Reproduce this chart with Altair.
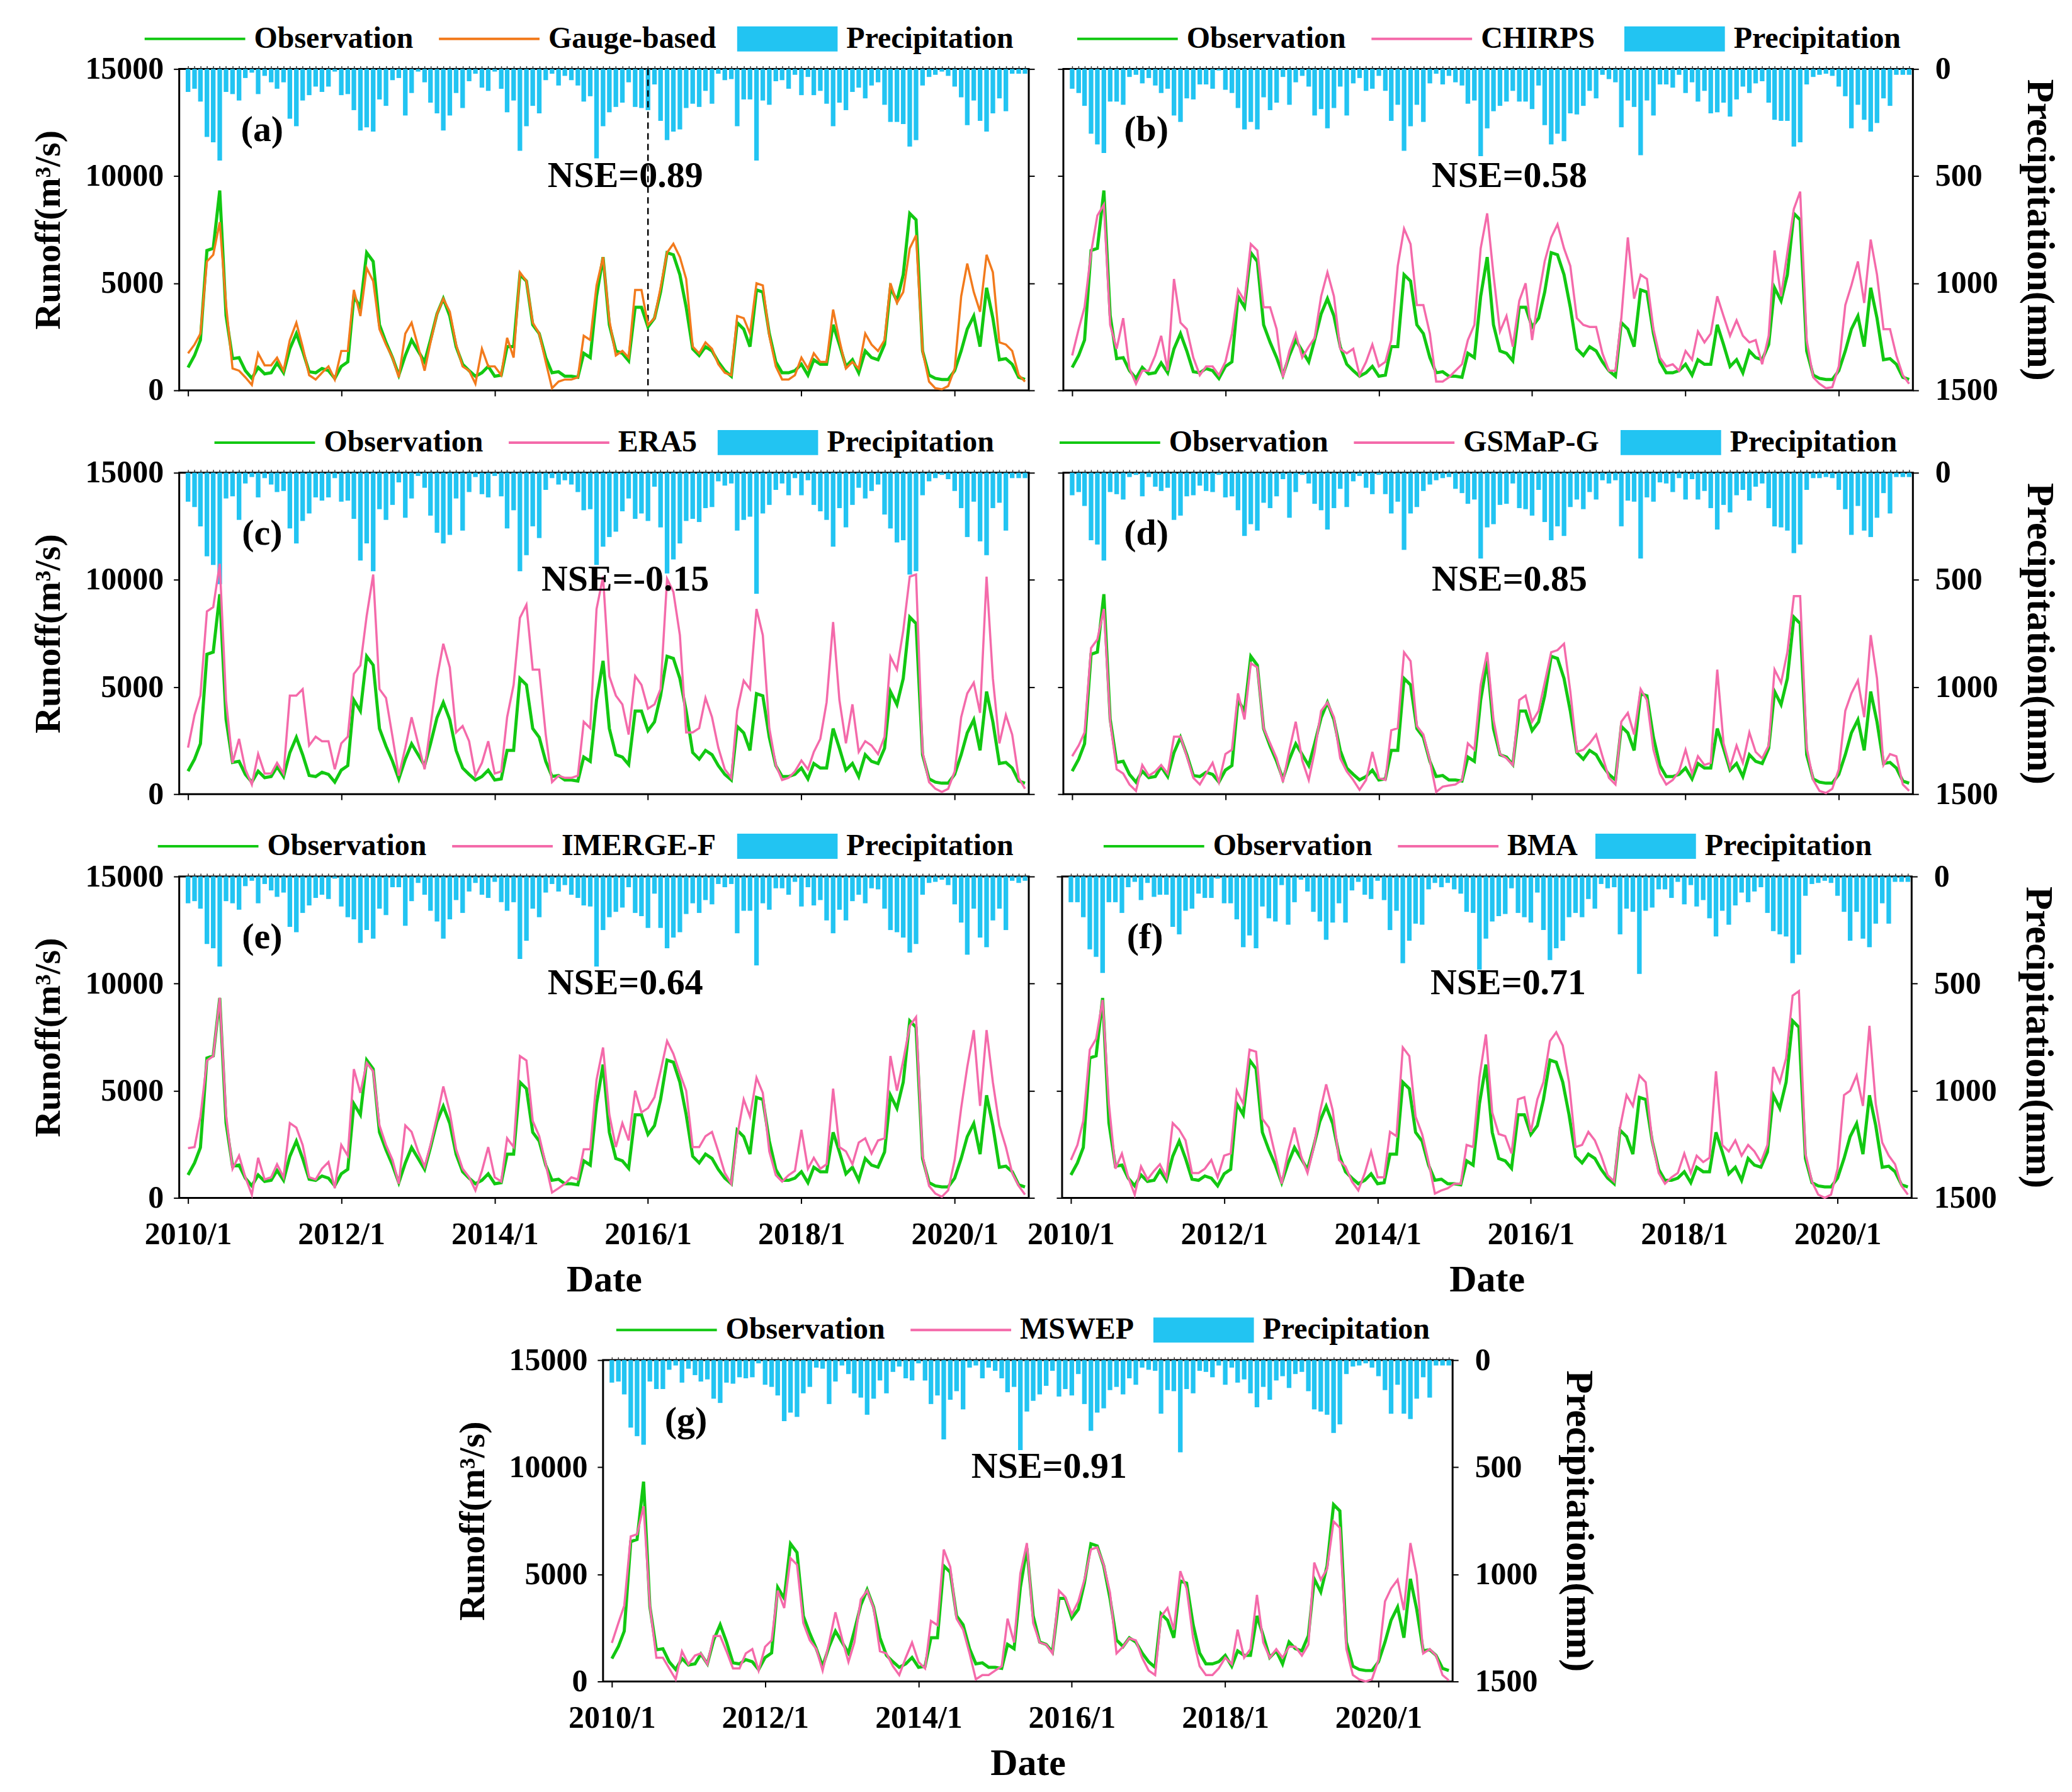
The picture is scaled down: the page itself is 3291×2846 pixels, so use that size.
import altair as alt
import pandas as pd

# ---------------- data (monthly, 2010/1 - 2020/12) ----------------
months = pd.date_range("2010-01-01", periods=132, freq="MS")

obs = [1070, 1630, 2350, 6530, 6630, 9330, 3500, 1480, 1530, 920, 560, 1070,
       770, 820, 1280, 820, 1940, 2650, 1840, 870, 820, 1020, 920, 560,
       1120, 1330, 4390, 3880, 6430, 6020, 3060, 2240, 1530, 710, 1630, 2350,
       1840, 1330, 2350, 3570, 4280, 3470, 2040, 1220, 920, 660, 820, 1120,
       660, 710, 2040, 2040, 5400, 5100, 3060, 2650, 1530, 820, 870, 660,
       660, 610, 1730, 1530, 4390, 6220, 3060, 1840, 1730, 1380, 3880, 3880,
       2960, 3370, 4590, 6430, 6330, 5400, 3880, 1940, 1630, 2040, 1840, 1330,
       920, 660, 3160, 2860, 2040, 4690, 4590, 2650, 1330, 820, 820, 920,
       1220, 710, 1430, 1220, 1220, 3060, 2140, 1120, 1430, 820, 1840, 1530,
       1430, 2140, 4790, 4180, 5400, 8260, 7960, 1840, 710, 560, 510, 510,
       920, 1840, 2860, 3470, 2040, 4790, 3370, 1430, 1480, 1220, 610, 510]

gauge = [1730, 2140, 2650, 6020, 6330, 7850, 4000, 1020, 920, 610, 255, 1730,
         1170, 1170, 1530, 920, 2350, 3160, 2040, 710, 510, 820, 1120, 510,
         1840, 1840, 4690, 3470, 5710, 5100, 2860, 2140, 1530, 610, 2650, 3160,
         2040, 920, 2240, 3570, 4280, 3670, 2140, 1120, 920, 310, 1940, 1120,
         1120, 710, 2450, 1530, 5510, 5100, 3160, 2650, 1330, 100, 410, 510,
         510, 610, 2550, 2350, 4900, 6220, 3270, 1630, 1840, 1530, 4690, 4690,
         3060, 3370, 4790, 6430, 6840, 6220, 5200, 2040, 1730, 2240, 1940, 1220,
         820, 710, 3470, 3370, 2650, 5000, 4900, 2550, 1120, 510, 510, 710,
         1530, 1020, 1730, 1330, 1330, 3770, 2350, 1020, 1330, 1020, 2650, 2140,
         1840, 2350, 5000, 4080, 4590, 6630, 7240, 1840, 410, 100, 50, 200,
         1020, 4390, 5920, 4590, 3670, 6330, 5510, 2240, 2140, 1840, 710, 410]

chirps = [1630, 2860, 3880, 6430, 8160, 8670, 3060, 1940, 3370, 1020, 310, 920,
          920, 1630, 2550, 920, 5200, 3160, 2860, 1530, 710, 1120, 1120, 710,
          1330, 2650, 4690, 4180, 6830, 6530, 3880, 3880, 2860, 610, 1840, 2650,
          1530, 2040, 2450, 4390, 5510, 4390, 1940, 1730, 1940, 710, 1330, 2140,
          1120, 1330, 2350, 5810, 7550, 6830, 3980, 3980, 2650, 410, 410, 610,
          920, 1220, 2350, 3060, 6630, 8260, 5400, 2750, 3470, 2040, 4180, 5000,
          2350, 4390, 6020, 7140, 7750, 6630, 5810, 3370, 3060, 2960, 2960, 1730,
          920, 920, 3370, 7140, 4280, 5400, 5200, 2860, 1530, 1120, 1220, 920,
          1840, 1430, 2750, 2240, 2650, 4390, 3470, 2550, 3270, 2550, 2240, 2350,
          1220, 2550, 6530, 4390, 6430, 8470, 9280, 2350, 610, 310, 100, 150,
          1120, 3980, 4900, 6020, 4080, 7040, 5400, 2860, 2860, 1630, 710, 310]

era5 = [2170, 3690, 4600, 8530, 8730, 10750, 4390, 1460, 2580, 1160, 450, 1870,
        960, 960, 1460, 960, 4600, 4600, 4900, 2270, 2680, 2470, 2470, 1160,
        2370, 2680, 5610, 6010, 8320, 10250, 4900, 4490, 2680, 860, 2170, 3590,
        2370, 1160, 3180, 5400, 7020, 5910, 2880, 3180, 2470, 860, 1460, 2470,
        960, 1060, 3590, 5100, 8230, 8840, 5810, 5810, 2780, 560, 860, 760,
        760, 860, 3380, 3080, 8640, 10150, 5500, 4600, 4190, 2780, 5510, 5100,
        3990, 4190, 4900, 10050, 9440, 7420, 2880, 2880, 3080, 4490, 3590, 2170,
        1160, 760, 3890, 5300, 4900, 8640, 7420, 3080, 1360, 660, 760, 1060,
        1570, 1160, 1970, 2580, 4290, 8030, 4390, 2370, 4190, 1970, 2470, 2270,
        1870, 2680, 6410, 5810, 7630, 10150, 10250, 1970, 560, 250, 100, 250,
        1060, 3590, 4700, 5200, 3790, 10150, 5400, 2370, 3690, 2780, 760, 250]

gsmap = [1770, 2270, 2880, 6820, 7220, 8640, 3380, 1160, 960, 450, 150, 1360,
         860, 1060, 1360, 960, 2680, 2680, 1770, 760, 450, 960, 1460, 560,
         1870, 2070, 4700, 3490, 6110, 5910, 3080, 2370, 1670, 560, 2070, 3380,
         1570, 660, 1970, 3890, 4280, 3590, 1670, 1060, 660, 200, 660, 1970,
         760, 660, 2980, 3080, 6620, 6210, 3180, 2780, 1570, 100, 350, 400,
         450, 660, 2370, 2070, 5100, 6620, 3490, 1870, 1670, 1360, 4390, 4600,
         3380, 3890, 5200, 6620, 6720, 7020, 4800, 1970, 2070, 2370, 2780, 1770,
         760, 450, 3380, 3790, 2780, 4900, 4390, 2070, 960, 450, 660, 1060,
         2070, 960, 1770, 1360, 1460, 5810, 2370, 1250, 2270, 1460, 2880, 1970,
         1670, 2270, 5810, 5200, 6620, 9240, 9240, 2170, 660, 150, 50, 250,
         1160, 3890, 4700, 5300, 3590, 7420, 5400, 1360, 1870, 1770, 450, 150]

imerg = [2320, 2370, 3790, 6410, 6620, 9340, 3890, 1360, 1970, 960, 150, 1870,
         860, 960, 1570, 960, 3490, 3280, 2470, 960, 860, 1360, 1670, 450,
         2470, 1970, 6010, 4900, 6300, 5910, 3380, 2470, 1770, 660, 3380, 3080,
         2170, 1460, 2470, 3790, 5200, 3990, 2270, 1360, 960, 350, 1260, 2370,
         960, 760, 2780, 2370, 6620, 6410, 3590, 2880, 1570, 250, 450, 660,
         960, 860, 2270, 2270, 5510, 7020, 3890, 2370, 3490, 2680, 5000, 3990,
         4190, 4700, 5910, 7320, 6720, 5810, 5000, 2370, 2370, 2880, 3080, 2170,
         1160, 660, 2880, 4600, 3790, 5610, 4900, 2170, 1060, 760, 1060, 1260,
         3180, 1360, 1870, 1360, 1570, 5100, 2370, 2170, 1570, 2580, 2780, 2070,
         2680, 2780, 6620, 5000, 6410, 8030, 8440, 1970, 560, 200, 50, 350,
         1770, 4190, 6110, 7830, 4290, 7830, 5400, 3380, 2370, 1160, 560, 150]

bma = [1770, 2470, 3590, 6920, 7420, 9240, 4390, 1360, 2070, 960, 150, 1460,
       860, 1260, 1570, 960, 3490, 3180, 2680, 1160, 1160, 1360, 1770, 960,
       1970, 2070, 5000, 4390, 6920, 6820, 3690, 3280, 1970, 660, 2170, 3280,
       1970, 1160, 2270, 3990, 5300, 4090, 1770, 1460, 760, 350, 1160, 2170,
       960, 960, 3080, 2880, 7020, 6620, 3790, 2980, 1670, 200, 350, 450,
       660, 660, 2470, 2370, 5610, 7630, 3990, 2980, 2880, 2070, 4600, 4700,
       3080, 4600, 5400, 7320, 7730, 7110, 5400, 2370, 2470, 3080, 2680, 1970,
       1060, 760, 3280, 4800, 4290, 5710, 5400, 2680, 1160, 660, 960, 1160,
       2070, 1160, 1970, 1670, 1870, 5910, 2470, 2170, 2680, 1970, 2470, 2170,
       1670, 2470, 6110, 5400, 6520, 9440, 9650, 2070, 760, 150, 0, 150,
       1360, 4800, 5000, 5710, 4290, 8030, 4390, 2580, 1970, 1570, 560, 150]

mswep = [1800, 2730, 3540, 6770, 6870, 8180, 3540, 1110, 1110, 610, 100, 1410,
         810, 1210, 1310, 810, 2120, 2120, 1410, 610, 610, 1310, 1510, 510,
         1620, 1920, 4240, 3430, 5760, 5450, 2730, 1920, 1510, 510, 1820, 3230,
         2020, 910, 1820, 3840, 4240, 3430, 1410, 1310, 710, 300, 1110, 1820,
         910, 610, 2830, 2630, 6160, 5350, 2930, 2420, 1310, 100, 300, 300,
         510, 710, 2930, 1820, 5050, 6460, 2730, 1820, 1720, 1310, 4240, 3940,
         3130, 3740, 4750, 6160, 6260, 5450, 4140, 1310, 1620, 2020, 1920, 1110,
         510, 300, 3030, 3430, 2420, 5150, 4340, 2020, 710, 300, 300, 610,
         1110, 810, 2420, 1110, 1510, 4040, 1820, 1110, 1510, 1110, 1620, 1620,
         1210, 1720, 5550, 4750, 5250, 7470, 7170, 1510, 300, 100, 0, 100,
         1010, 3740, 4340, 4750, 3330, 6460, 4950, 1310, 1510, 1210, 300, 50]

p_gauge = [107, 92, 152, 317, 342, 427, 107, 117, 147, 42, 17, 117,
           32, 62, 92, 62, 232, 267, 147, 122, 82, 107, 82, 12,
           122, 117, 192, 287, 272, 292, 142, 172, 52, 42, 217, 112,
           12, 62, 157, 207, 287, 217, 112, 182, 57, 22, 87, 102,
           12, 92, 202, 147, 382, 267, 172, 207, 52, 22, 77, 32,
           52, 77, 152, 127, 417, 267, 202, 177, 157, 62, 177, 182,
           192, 72, 242, 332, 292, 282, 182, 162, 177, 102, 162, 22,
           52, 47, 267, 142, 142, 427, 147, 167, 57, 52, 92, 27,
           122, 37, 122, 102, 162, 267, 157, 192, 107, 87, 137, 77,
           62, 167, 247, 247, 257, 362, 332, 77, 37, 27, 12, 32,
           82, 132, 262, 147, 242, 292, 207, 137, 197, 22, 22, 22]

p_chirps = [92, 112, 172, 302, 352, 392, 152, 152, 167, 37, 27, 67,
            42, 77, 112, 92, 217, 247, 137, 142, 72, 72, 92, 7,
            97, 112, 182, 282, 247, 282, 132, 192, 157, 37, 167, 62,
            32, 82, 217, 187, 277, 182, 82, 217, 67, 42, 102, 92,
            32, 102, 242, 167, 382, 267, 167, 247, 67, 22, 72, 32,
            62, 77, 162, 147, 407, 277, 197, 172, 152, 102, 152, 152,
            187, 77, 262, 352, 302, 337, 207, 212, 172, 102, 137, 27,
            47, 62, 272, 147, 177, 402, 147, 217, 72, 72, 87, 27,
            112, 62, 152, 102, 207, 202, 157, 222, 142, 82, 112, 67,
            57, 157, 237, 242, 242, 362, 342, 72, 37, 27, 22, 32,
            82, 127, 277, 167, 237, 292, 252, 137, 172, 27, 27, 27]

p_era5 = [135, 160, 250, 390, 430, 520, 120, 110, 220, 50, 20, 115,
          25, 55, 90, 85, 260, 330, 225, 190, 115, 130, 115, 25,
          135, 130, 215, 410, 330, 460, 170, 220, 150, 45, 210, 120,
          15, 70, 200, 280, 330, 290, 120, 270, 90, 20, 100, 115,
          15, 110, 260, 175, 460, 385, 250, 305, 80, 25, 55, 35,
          55, 90, 175, 170, 430, 345, 300, 275, 180, 120, 215, 190,
          225, 65, 255, 470, 405, 330, 225, 215, 230, 165, 160, 40,
          60, 50, 270, 220, 205, 565, 190, 150, 80, 50, 105, 25,
          105, 35, 150, 180, 220, 345, 165, 255, 150, 70, 120, 85,
          55, 195, 260, 325, 315, 475, 460, 105, 40, 25, 10, 30,
          85, 165, 300, 135, 320, 385, 165, 140, 270, 25, 25, 25]

p_gsmap = [105, 90, 155, 315, 335, 410, 90, 100, 125, 20, 10, 110,
           20, 65, 85, 70, 220, 200, 110, 105, 60, 85, 90, 10,
           115, 110, 175, 295, 240, 270, 140, 165, 110, 30, 210, 90,
           10, 50, 145, 175, 265, 165, 75, 160, 40, 15, 70, 100,
           10, 100, 190, 135, 360, 190, 160, 85, 55, 35, 25, 20,
           75, 95, 145, 125, 400, 255, 240, 150, 145, 50, 165, 170,
           200, 80, 230, 315, 250, 295, 160, 125, 170, 90, 125, 35,
           50, 35, 250, 130, 135, 400, 115, 135, 45, 50, 90, 25,
           125, 30, 125, 85, 165, 265, 150, 185, 105, 80, 130, 65,
           50, 165, 250, 255, 270, 375, 335, 80, 25, 25, 20, 25,
           80, 170, 290, 155, 270, 300, 210, 95, 190, 20, 20, 20]

p_imerg = [125, 115, 150, 315, 335, 420, 115, 125, 155, 45, 20, 125,
           35, 65, 95, 75, 235, 260, 170, 135, 100, 85, 105, 10,
           140, 190, 200, 310, 250, 290, 150, 180, 50, 50, 230, 115,
           30, 85, 160, 210, 290, 200, 110, 170, 70, 30, 85, 100,
           25, 120, 160, 120, 385, 300, 150, 190, 75, 35, 70, 40,
           85, 100, 135, 140, 420, 250, 190, 165, 145, 50, 170, 185,
           240, 80, 240, 335, 285, 260, 175, 125, 170, 110, 130, 35,
           50, 35, 265, 160, 160, 415, 125, 155, 55, 55, 85, 25,
           140, 50, 135, 110, 205, 265, 155, 205, 115, 85, 125, 55,
           60, 150, 250, 260, 285, 355, 315, 85, 30, 25, 15, 40,
           130, 215, 365, 150, 285, 330, 205, 150, 250, 20, 30, 20]

p_bma = [120, 120, 190, 340, 375, 450, 120, 120, 170, 50, 25, 110,
         30, 95, 85, 85, 235, 270, 160, 150, 80, 100, 100, 10,
         125, 125, 200, 330, 275, 335, 140, 195, 210, 40, 225, 120,
         15, 70, 165, 210, 295, 215, 125, 215, 65, 25, 85, 105,
         20, 110, 250, 160, 405, 300, 220, 225, 60, 30, 50, 30,
         60, 80, 165, 170, 435, 290, 210, 185, 175, 55, 170, 190,
         215, 75, 250, 390, 335, 300, 190, 170, 190, 105, 150, 35,
         55, 50, 270, 150, 165, 455, 160, 145, 60, 60, 100, 25,
         130, 40, 140, 110, 195, 280, 160, 225, 135, 75, 120, 70,
         50, 170, 255, 270, 280, 405, 365, 90, 35, 30, 20, 30,
         90, 165, 300, 165, 290, 330, 220, 125, 220, 25, 25, 25]

p_mswep = [105, 100, 160, 315, 355, 395, 100, 135, 135, 45, 25, 105,
           40, 70, 100, 90, 180, 200, 105, 110, 80, 85, 80, 15,
           115, 125, 165, 285, 245, 265, 155, 125, 35, 40, 205, 100,
           25, 65, 155, 175, 255, 180, 95, 155, 55, 30, 85, 95,
           15, 95, 205, 165, 370, 185, 145, 230, 35, 25, 85, 35,
           50, 85, 150, 125, 420, 240, 190, 160, 120, 50, 170, 135,
           165, 65, 205, 330, 245, 225, 140, 125, 160, 85, 115, 35,
           45, 50, 250, 140, 145, 430, 135, 155, 50, 55, 80, 25,
           115, 35, 105, 90, 155, 220, 125, 185, 95, 75, 130, 65,
           55, 145, 230, 240, 255, 340, 300, 65, 30, 25, 15, 35,
           75, 140, 250, 115, 250, 275, 180, 80, 175, 25, 25, 25]

# ---------------- style ----------------
GREEN = "#12c812"
ORANGE = "#f27a1c"
PINK = "#f46aaa"
BLUE = "#22c4f2"
FONT = "Liberation Serif"

W, H = 1351, 511
LEG_Y = -68

xscale = alt.Scale(domain=[alt.DateTime(year=2009, month=11, date=20),
                           alt.DateTime(year=2020, month=12, date=19)], nice=False)
yrun = alt.Scale(domain=[0, 15000], nice=False)
yprec = alt.Scale(domain=[0, 1500], reverse=True, nice=False)
major_ticks = [alt.DateTime(year=y, month=1, date=1) for y in range(2010, 2021, 2)]
month_ticks = [alt.DateTime(year=d.year, month=d.month, date=1) for d in months]

TICK = dict(tickSize=9, tickWidth=2, tickColor="black", domain=False, grid=False)


def make_panel(sim, sim_name, sim_color, precip, label, nse,
               left_labels, right_labels, x_labels, leg_line_x, leg_bar_x, split=False):
    obs_df = pd.DataFrame({"date": months, "runoff": obs, "series": "Observation"})
    sim_df = pd.DataFrame({"date": months, "runoff": sim, "series": sim_name})
    bar_df = pd.DataFrame({"start": months - pd.Timedelta(days=11),
                           "end": months + pd.Timedelta(days=11),
                           "precip": precip, "kind": "Precipitation"})
    ann_df = pd.DataFrame({"date": [pd.Timestamp("2010-12-20"), pd.Timestamp("2015-09-15")],
                           "val": [12150, 10000],
                           "txt": [label, "NSE=" + nse]})

    line_legend = alt.Legend(title=None, orient="none", direction="horizontal",
                             legendX=leg_line_x, legendY=LEG_Y,
                             symbolType="M-1,0H1", symbolSize=25600, symbolStrokeWidth=4,
                             clipHeight=40, labelFont=FONT, labelFontSize=48,
                             labelFontWeight="bold", labelColor="black", labelOffset=12,
                             columnPadding=38, labelLimit=1000, padding=0)
    bar_legend = alt.Legend(title=None, orient="none", direction="horizontal",
                            legendX=leg_bar_x, legendY=LEG_Y,
                            symbolType="M-1,-0.25H1V0.25H-1Z", symbolSize=25600,
                            symbolStrokeWidth=0, clipHeight=40, labelFont=FONT,
                            labelFontSize=48, labelFontWeight="bold", labelColor="black",
                            labelOffset=14, labelLimit=1000, padding=0)
    color_enc = alt.Color("series:N",
                          scale=alt.Scale(domain=["Observation", sim_name], range=[GREEN, sim_color]),
                          legend=line_legend)

    # axes
    bottom_kw = dict(orient="bottom", values=major_ticks, format="%Y/%-m", labels=x_labels, **TICK)
    if x_labels:
        bottom_kw.update(title="Date", labelPadding=24, titlePadding=18, titleFontSize=60)
    else:
        bottom_kw.update(title=None)
    left_kw = dict(orient="left", values=[0, 5000, 10000, 15000], format="d", labels=left_labels, **TICK)
    if left_labels:
        left_kw.update(title="Runoff(m³/s)", labelPadding=16, titlePadding=28)
    else:
        left_kw.update(title=None)
    right_kw = dict(orient="right", values=[0, 500, 1000, 1500], format="d", labels=right_labels, **TICK)
    if right_labels:
        right_kw.update(title="Precipitation(mm)", labelPadding=26, titlePadding=34, titleFontSize=61)
    else:
        right_kw.update(title=None)
    top_axis = alt.Axis(orient="top", values=month_ticks, labels=False, title=None,
                        tickSize=5, tickWidth=1.5, tickColor="#333333", domain=False, grid=False)

    bars = alt.Chart(bar_df).mark_bar().encode(
        x=alt.X("start:T", scale=xscale, axis=top_axis),
        x2="end:T",
        y=alt.Y("precip:Q", scale=yprec, axis=alt.Axis(**right_kw)),
        y2=alt.datum(0),
        fill=alt.Fill("kind:N", scale=alt.Scale(domain=["Precipitation"], range=[BLUE]),
                      legend=bar_legend),
    )
    obs_line = alt.Chart(obs_df).mark_line(strokeWidth=5).encode(
        x=alt.X("date:T", scale=xscale, axis=alt.Axis(**bottom_kw)),
        y=alt.Y("runoff:Q", scale=yrun, axis=alt.Axis(**left_kw)),
        color=color_enc,
    )
    sim_line = alt.Chart(sim_df).mark_line(strokeWidth=3.5).encode(
        x=alt.X("date:T", scale=xscale, axis=None),
        y=alt.Y("runoff:Q", scale=yrun, axis=None),
        color=color_enc,
    )
    texts = alt.Chart(ann_df).mark_text(font=FONT, fontWeight="bold", fontSize=58,
                                        color="black", align="center", baseline="middle").encode(
        x=alt.X("date:T", scale=xscale, axis=None),
        y=alt.Y("val:Q", scale=yrun, axis=None),
        text="txt:N",
    )
    layers = [bars]
    if split:
        rule = alt.Chart(pd.DataFrame({"date": [pd.Timestamp("2016-01-01")]})).mark_rule(
            color="black", strokeWidth=2.5, strokeDash=[10, 7]).encode(
            x=alt.X("date:T", scale=xscale, axis=None))
        layers.append(rule)
    layers += [obs_line, sim_line, texts]
    return (alt.layer(*layers)
            .resolve_scale(y="independent")
            .resolve_axis(x="independent", y="independent")
            .properties(width=W, height=H))


def indep(c):
    return c.resolve_scale(color="independent", fill="independent").resolve_legend(
        color="independent", fill="independent")


pa = make_panel(gauge, "Gauge-based", ORANGE, p_gauge, "(a)", "0.89", True, False, False, -57, 887, split=True)
pb = make_panel(chirps, "CHIRPS", PINK, p_chirps, "(b)", "0.58", False, True, False, 20, 892)
pc = make_panel(era5, "ERA5", PINK, p_era5, "(c)", "-0.15", True, False, False, 54, 856)
pd_ = make_panel(gsmap, "GSMaP-G", PINK, p_gsmap, "(d)", "0.85", False, True, False, -8, 886)
pe = make_panel(imerg, "IMERGE-F", PINK, p_imerg, "(e)", "0.64", True, False, True, -36, 887)
pf = make_panel(bma, "BMA", PINK, p_bma, "(f)", "0.71", False, True, True, 64, 848)
pg = make_panel(mswep, "MSWEP", PINK, p_mswep, "(g)", "0.91", True, True, True, 19, 875)

spacer = alt.Chart(pd.DataFrame({"v": [0]})).mark_point(opacity=0).encode(
    x=alt.X("v:Q", axis=None), y=alt.Y("v:Q", axis=None)
).properties(width=434, height=10, view=alt.ViewBackground(stroke="transparent"))

row1 = indep(alt.hconcat(pa, pb, spacing=31))
row2 = indep(alt.hconcat(pc, pd_, spacing=31))
# the first date label of (f) reaches left of its frame, so the gap is reduced here
row3 = indep(alt.hconcat(pe, pf, spacing=-16))
row4 = indep(alt.hconcat(spacer, pg, spacing=0))
top_rows = indep(alt.vconcat(row1, row2, row3, spacing=34))
chart = indep(alt.vconcat(top_rows, row4, spacing=26)).configure(
    padding={"left": 39, "top": 30, "right": 12, "bottom": 5},
    background="white",
).configure_view(stroke="black", strokeWidth=3).configure_axis(
    labelFont=FONT, labelFontSize=50, labelFontWeight="bold", labelColor="black",
    titleFont=FONT, titleFontSize=58, titleFontWeight="bold", titleColor="black",
)

chart.save("out.html", embed_options={"renderer": "svg", "actions": False})
